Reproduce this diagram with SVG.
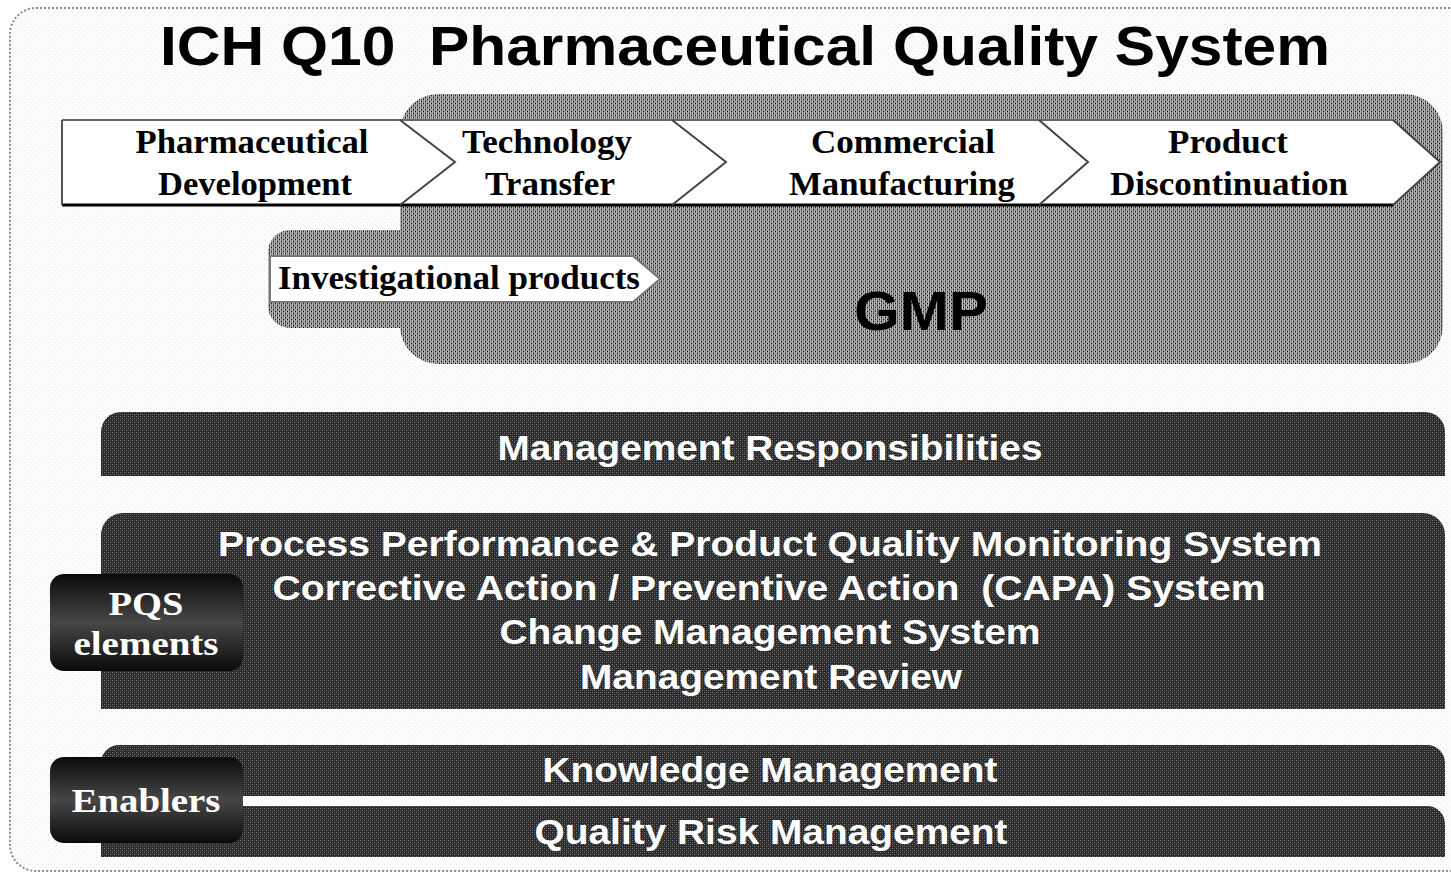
<svg xmlns="http://www.w3.org/2000/svg" width="1451" height="873" viewBox="0 0 1451 873">
<defs>
<pattern id="bgp" x="0" y="0" width="6" height="6" patternUnits="userSpaceOnUse">
<rect width="6" height="6" fill="#fcfcfc"/>
<rect x="0" y="0" width="1" height="1" fill="#e4e4e4"/>
<rect x="3" y="3" width="1" height="1" fill="#ececec"/>
</pattern>
<pattern id="gmp" x="0" y="0" width="4" height="4" patternUnits="userSpaceOnUse">
<rect width="4" height="4" fill="#b8b8b8"/>
<rect x="1" y="0" width="1" height="4" fill="#6a6a6a"/>
<rect x="3" y="0" width="1" height="4" fill="#808080"/>
<rect x="1" y="1" width="1" height="1" fill="#111"/>
<rect x="3" y="3" width="1" height="1" fill="#111"/>
</pattern>
<pattern id="dark" x="0" y="0" width="4" height="4" patternUnits="userSpaceOnUse">
<rect width="4" height="4" fill="#2a2a2a"/>
<rect x="0" y="0" width="1" height="1" fill="#7a7a7a"/>
<rect x="2" y="2" width="1" height="1" fill="#7a7a7a"/>
<rect x="2" y="0" width="1" height="1" fill="#4a4a4a"/>
<rect x="0" y="2" width="1" height="1" fill="#4a4a4a"/>
</pattern>
<linearGradient id="boxg" x1="0" y1="0" x2="0" y2="1">
<stop offset="0" stop-color="#0a0a0a"/>
<stop offset="0.5" stop-color="#474747"/>
<stop offset="1" stop-color="#0a0a0a"/>
</linearGradient>
<style>
.title{font-family:"Liberation Sans",Arial,sans-serif;font-weight:bold;fill:#000;white-space:pre}
.chev{font-family:"Liberation Serif","Times New Roman",serif;font-weight:bold;font-size:33px;fill:#000;text-anchor:middle}
.band{font-family:"Liberation Sans",Arial,sans-serif;font-weight:bold;font-size:35px;fill:#fff;text-anchor:middle;white-space:pre}
.lbl{font-family:"Liberation Serif","Times New Roman",serif;font-weight:bold;font-size:34px;fill:#fff;text-anchor:middle}
.dk{fill:url(#dark)}
</style>
</defs>

<g id="frame">
<rect x="10" y="8" width="1470" height="863" rx="26" fill="url(#bgp)" stroke="#8c8c8c" stroke-width="2" stroke-dasharray="2 2"/>
</g>

<g id="title">
<text class="title" x="745" y="65" font-size="56" text-anchor="middle" textLength="1170" lengthAdjust="spacingAndGlyphs">ICH Q10  Pharmaceutical Quality System</text>
</g>

<g id="gmp-area">
<rect x="400" y="94" width="1043" height="270" rx="38" fill="url(#gmp)"/>
<rect x="268" y="230" width="440" height="98" rx="22" fill="url(#gmp)"/>
<text class="title" x="921" y="330" font-size="56" text-anchor="middle" textLength="134" lengthAdjust="spacingAndGlyphs">GMP</text>
</g>

<g id="lifecycle">
<polygon points="62,120 1393,120 1440,162 1393,205 62,205" fill="#fff"/>
<line x1="62" y1="120" x2="1393" y2="120" stroke="#666" stroke-width="2"/>
<line x1="62" y1="205" x2="1393" y2="205" stroke="#000" stroke-width="3"/>
<line x1="62" y1="120" x2="62" y2="205" stroke="#555" stroke-width="2"/>
<polyline points="400,120 455,162 400,205" fill="none" stroke="#444" stroke-width="2"/>
<polyline points="672,120 726,162 672,205" fill="none" stroke="#444" stroke-width="2"/>
<polyline points="1039,120 1088,162 1039,205" fill="none" stroke="#444" stroke-width="2"/>
<polyline points="1393,120 1440,162 1393,205" fill="none" stroke="#444" stroke-width="2"/>
</g>

<g id="pharm-dev">
<text class="chev" x="252" y="153" textLength="233" lengthAdjust="spacingAndGlyphs">Pharmaceutical</text>
<text class="chev" x="255" y="195" textLength="194" lengthAdjust="spacingAndGlyphs">Development</text>
</g>
<g id="tech-transfer">
<text class="chev" x="547" y="153" textLength="170" lengthAdjust="spacingAndGlyphs">Technology</text>
<text class="chev" x="550" y="195" textLength="130" lengthAdjust="spacingAndGlyphs">Transfer</text>
</g>
<g id="commercial">
<text class="chev" x="903" y="153" textLength="184" lengthAdjust="spacingAndGlyphs">Commercial</text>
<text class="chev" x="902" y="195" textLength="226" lengthAdjust="spacingAndGlyphs">Manufacturing</text>
</g>
<g id="discontinuation">
<text class="chev" x="1228" y="153" textLength="120" lengthAdjust="spacingAndGlyphs">Product</text>
<text class="chev" x="1229" y="195" textLength="238" lengthAdjust="spacingAndGlyphs">Discontinuation</text>
</g>

<g id="investigational">
<polygon points="270,256 633,256 660,279 633,302 270,302" fill="#fff" stroke="#777" stroke-width="2"/>
<text class="chev" x="459" y="289" font-size="31" textLength="362" lengthAdjust="spacingAndGlyphs">Investigational products</text>
</g>

<g id="mgmt-resp">
<path class="dk" d="M101,476 V432 A20,20 0 0 1 121,412 H1425 A20,20 0 0 1 1445,432 V476 Z"/>
<text class="band" x="770" y="460" textLength="545" lengthAdjust="spacingAndGlyphs">Management Responsibilities</text>
</g>

<g id="pqs-band">
<path class="dk" d="M101,709 V535 A22,22 0 0 1 123,513 H1423 A22,22 0 0 1 1445,535 V709 Z"/>
<text class="band" x="770" y="556" textLength="1104" lengthAdjust="spacingAndGlyphs">Process Performance &amp; Product Quality Monitoring System</text>
<text class="band" x="769" y="600" textLength="993" lengthAdjust="spacingAndGlyphs">Corrective Action / Preventive Action  (CAPA) System</text>
<text class="band" x="770" y="644" textLength="541" lengthAdjust="spacingAndGlyphs">Change Management System</text>
<text class="band" x="771" y="689" textLength="382" lengthAdjust="spacingAndGlyphs">Management Review</text>
</g>

<g id="knowledge">
<path class="dk" d="M101,796 V763 A18,18 0 0 1 119,745 H1427 A18,18 0 0 1 1445,763 V796 Z"/>
<text class="band" x="770" y="782" textLength="455" lengthAdjust="spacingAndGlyphs">Knowledge Management</text>
</g>

<g id="qrm">
<path class="dk" d="M101,857 V824 A18,18 0 0 1 119,806 H1427 A18,18 0 0 1 1445,824 V857 Z"/>
<text class="band" x="771" y="844" textLength="473" lengthAdjust="spacingAndGlyphs">Quality Risk Management</text>
</g>

<g id="pqs-elements">
<rect x="50" y="574" width="193" height="97" rx="14" fill="url(#boxg)"/>
<text class="lbl" x="146" y="615" textLength="75" lengthAdjust="spacingAndGlyphs">PQS</text>
<text class="lbl" x="146" y="655" textLength="145" lengthAdjust="spacingAndGlyphs">elements</text>
</g>

<g id="enablers">
<rect x="50" y="757" width="193" height="86" rx="14" fill="url(#boxg)"/>
<text class="lbl" x="146" y="812" textLength="149" lengthAdjust="spacingAndGlyphs">Enablers</text>
</g>

<g id="connectors"></g>
</svg>
